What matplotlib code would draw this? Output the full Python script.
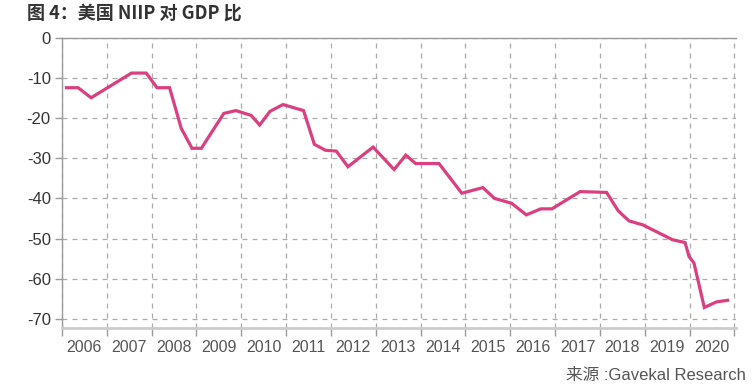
import matplotlib.pyplot as plt
from matplotlib.ticker import FixedLocator, NullFormatter

plt.rcParams['font.family'] = ['Liberation Sans', 'Noto Sans CJK SC', 'DejaVu Sans']
plt.rcParams['axes.unicode_minus'] = False

# fractional year positions and NIIP / GDP (%)
years = [2006.10, 2006.36, 2006.65, 2007.55, 2007.88, 2008.12, 2008.40, 2008.66,
         2008.90, 2009.11, 2009.61, 2009.88, 2010.22, 2010.41, 2010.64, 2010.93,
         2011.39, 2011.63, 2011.88, 2012.12, 2012.38, 2012.94, 2013.41, 2013.67,
         2013.89, 2014.41, 2014.92, 2015.39, 2015.65, 2016.03, 2016.36, 2016.68,
         2016.93, 2017.56, 2018.15, 2018.41, 2018.65, 2018.96, 2019.62, 2019.90,
         2019.99, 2020.10, 2020.33, 2020.60, 2020.85]
niip = [-12.4, -12.4, -14.9, -8.75, -8.75, -12.4, -12.4, -22.5,
        -27.5, -27.5, -18.8, -18.1, -19.3, -21.7, -18.3, -16.6,
        -18.1, -26.5, -28.0, -28.2, -32.1, -27.2, -32.8, -29.2,
        -31.3, -31.3, -38.7, -37.3, -40.0, -41.2, -44.1, -42.6,
        -42.6, -38.3, -38.5, -43.1, -45.6, -46.6, -50.3, -51.0,
        -54.5, -56.1, -67.2, -65.8, -65.4]

year_labels = [str(y) for y in range(2006, 2021)]
y_ticks = [0, -10, -20, -30, -40, -50, -60, -70]

fig = plt.figure(figsize=(7.53, 3.90), dpi=100)
ax = fig.add_axes([0.0823, 0.159, 0.8947, 0.7436])

ax.plot(years, niip, color='#db3f7f', lw=2.3, solid_joinstyle='miter', zorder=3)

ax.set_xlim(2006, 2021.03)
ax.set_ylim(-72.3, 0)

# year boundaries as major ticks, labels centred on minor ticks
ax.xaxis.set_major_locator(FixedLocator(list(range(2006, 2022))))
ax.xaxis.set_major_formatter(NullFormatter())
ax.xaxis.set_minor_locator(FixedLocator([y + 0.5 for y in range(2006, 2021)]))
ax.set_xticklabels(year_labels, minor=True)
ax.tick_params(axis='x', which='major', length=6, width=1, color='#999999', direction='out')
ax.tick_params(axis='x', which='minor', length=0, pad=9, labelsize=11.5, labelcolor='#555555')

ax.set_yticks(y_ticks)
ax.set_yticklabels([str(v) if v == 0 else '-' + str(-v) for v in y_ticks])
ax.tick_params(axis='y', length=5, width=1, color='#999999', pad=3, labelsize=12, labelcolor='#333333')

ax.grid(True, which='major', color='#aaaaaa', lw=0.9, linestyle=(0, (4, 4)))

ax.spines['right'].set_visible(False)
ax.spines['top'].set_color('#999999')
ax.spines['top'].set_linewidth(1)
ax.spines['left'].set_color('#999999')
ax.spines['left'].set_linewidth(1)
ax.spines['bottom'].set_color('#cccccc')
ax.spines['bottom'].set_linewidth(2)

fig.text(0.036, 0.966, '图 4：美国 NIIP 对 GDP 比', fontsize=13, fontweight='bold',
         color='#333333', family=['Noto Sans CJK SC', 'DejaVu Sans'], va='center', ha='left')
fig.text(0.99, 0.038, '来源 :Gavekal Research', fontsize=12, color='#555555',
         family=['Liberation Sans', 'Noto Sans CJK SC'], va='center', ha='right')

fig.savefig('out.png', dpi=100)
